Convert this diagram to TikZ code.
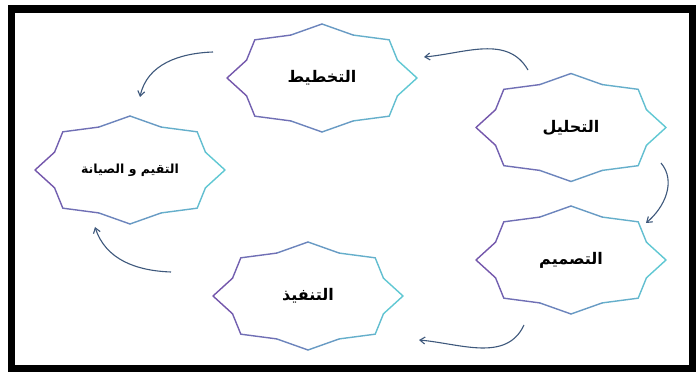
\documentclass[tikz,border=0pt]{standalone}
\usepackage{fontspec}
\usepackage{xcolor}
\usepackage{tikz}
\usetikzlibrary{arrows.meta,calc}
\TeXXeTstate=1
\newfontfamily\arfont[Script=Arabic]{DejaVu Sans}
\definecolor{purpE}{RGB}{116,86,172}
\definecolor{cyanE}{RGB}{96,202,212}
\definecolor{flowc}{RGB}{62,88,124}
\tikzset{
  stage/.style={inner sep=0pt, font=\arfont\bfseries\fontsize{16}{18}\selectfont},
  stagesm/.style={inner sep=0pt, font=\arfont\bfseries\fontsize{12.5}{15}\selectfont},
  starline/.style={line width=1.4pt, line cap=round, line join=round},
  flow/.style={-{Straight Barb[length=5pt,width=7pt]}, line width=1.1pt, flowc},
  framebar/.style={line width=7.5pt, black},
}
\newcommand{\starframe}[1]{%
  \foreach \k [evaluate=\k as \ra using {0.93+0.07*cos(\k*180)},
               evaluate=\k as \rb using {0.93-0.07*cos(\k*180)},
               evaluate=\k as \pc using {int(50+25*(cos(\k*22.5)+cos(\k*22.5+22.5)))}] in {0,...,15}
    \draw[starline, cyanE!\pc!purpE]
      ($(#1)+({95*\ra*cos(\k*22.5)},{54*\ra*sin(\k*22.5)})$) --
      ($(#1)+({95*\rb*cos(\k*22.5+22.5)},{54*\rb*sin(\k*22.5+22.5)})$);%
}

\begin{document}
\begin{tikzpicture}[x=1pt,y=1pt]
\useasboundingbox (0,0) rectangle (696,372);
\fill[white] (0,0) rectangle (696,372);
\draw[framebar] (11.5,3.5) rectangle (692.5,363);

\node[stage] (plan) at (322,294) {\beginR التخطيط\endR};
\node[stage] (anal) at (571,244.5) {\beginR التحليل\endR};
\node[stagesm] (eval) at (130,202) {\beginR التقيم و الصيانة\endR};
\node[stage] (design) at (571,112) {\beginR التصميم\endR};
\node[stage] (impl) at (308,76) {\beginR التنفيذ\endR};

\starframe{plan}
\starframe{anal}
\starframe{eval}
\starframe{design}
\starframe{impl}

\coordinate (a1) at (528,302);
\coordinate (b1) at (424,315);
\coordinate (a2) at (213,320);
\coordinate (b2) at (140,275);
\coordinate (a3) at (171,100);
\coordinate (b3) at (95,145);
\coordinate (a4) at (524,47);
\coordinate (b4) at (419,32);
\coordinate (a5) at (661,209);
\coordinate (b5) at (646,149);

\draw[flow] (a1) to[out=120,in=5] (b1);
\draw[flow] (a2) to[out=182,in=78] (b2);
\draw[flow] (a3) to[out=178,in=-72] (b3);
\draw[flow] (a4) to[out=-115,in=-5] (b4);
\draw[flow] (a5) to[out=-50,in=40] (b5);
\end{tikzpicture}
\end{document}
